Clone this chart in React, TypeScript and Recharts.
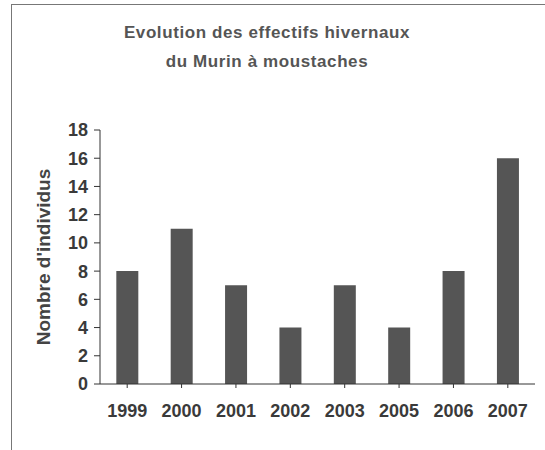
import React from "react";
import { BarChart, Bar, XAxis, YAxis } from "recharts";

const years = ["1999", "2000", "2001", "2002", "2003", "2005", "2006", "2007"];
const individus = [8, 11, 7, 4, 7, 4, 8, 16];
const yTicks = [0, 2, 4, 6, 8, 10, 12, 14, 16, 18];

const data = years.map((year, i) => ({ year, value: individus[i] }));

const font = "'Liberation Sans', Arial, sans-serif";

export default function App() {
  return (
    <div
      style={{
        position: "absolute",
        left: 0,
        top: 0,
        width: 545,
        height: 450,
        background: "#fff",
        fontFamily: font,
      }}
    >
      {/* cadre scanné */}
      <div
        style={{
          position: "absolute",
          left: 11,
          top: 4,
          right: 0,
          bottom: 0,
          borderTop: "1px solid #777",
          borderLeft: "1px solid #777",
        }}
      />
      <div
        style={{
          position: "absolute",
          left: 0,
          top: 18,
          width: 534,
          textAlign: "center",
          fontWeight: "bold",
          fontSize: 17,
          letterSpacing: 0.6,
          lineHeight: "29px",
          color: "#555",
        }}
      >
        Evolution des effectifs hivernaux
        <br />
        du Murin à moustaches
      </div>
      <div style={{ position: "absolute", left: 0, top: 0 }}>
        <BarChart
          width={545}
          height={450}
          data={data}
          margin={{ top: 130, right: 10, bottom: 36, left: 40 }}
          barCategoryGap="30%"
        >
          <XAxis
            dataKey="year"
            height={30}
            tickSize={4}
            tickMargin={16}
            stroke="#333"
            tick={{ fill: "#3a3a3a", fontSize: 18, fontWeight: "bold", fontFamily: font }}
            interval={0}
          />
          <YAxis
            width={60}
            domain={[0, 18]}
            ticks={yTicks}
            interval={0}
            tickSize={6}
            tickMargin={6}
            stroke="#333"
            tick={{ fill: "#3a3a3a", fontSize: 18, fontWeight: "bold", fontFamily: font }}
            label={{
              value: "Nombre d'individus",
              angle: -90,
              position: "center",
              dx: -27,
              fill: "#444",
              fontSize: 19,
              fontWeight: "bold",
              fontFamily: font,
            }}
          />
          <Bar dataKey="value" fill="#555" isAnimationActive={false} />
        </BarChart>
      </div>
    </div>
  );
}
